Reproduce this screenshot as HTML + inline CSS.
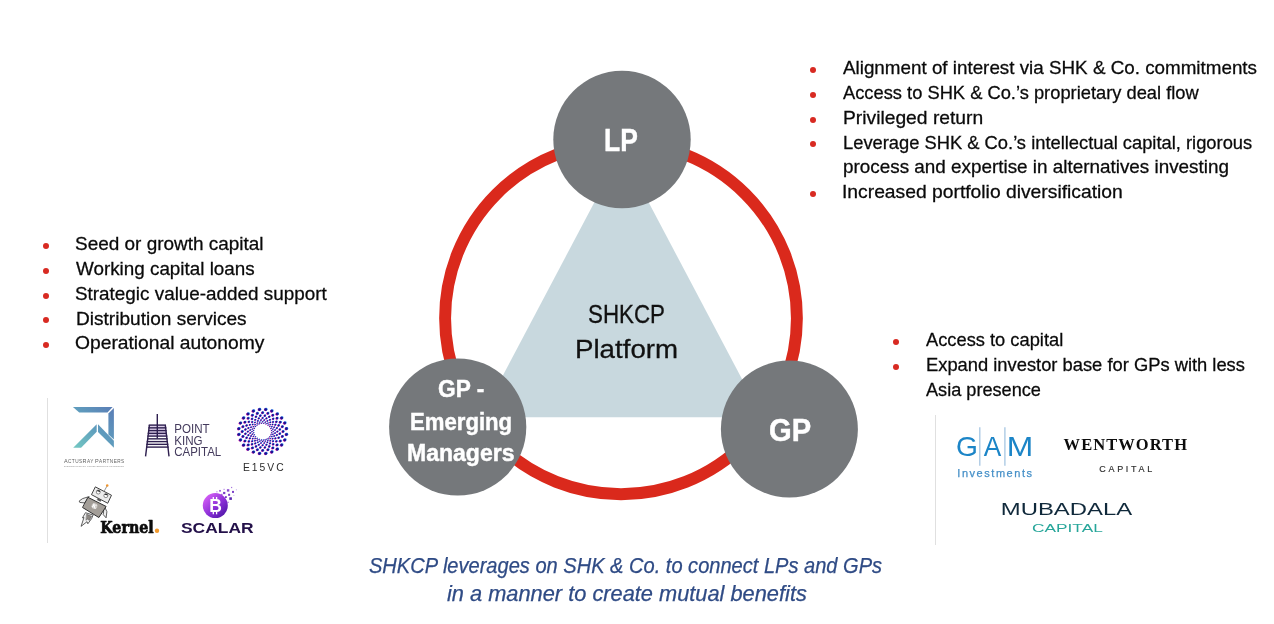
<!DOCTYPE html>
<html lang="en"><head><meta charset="utf-8"><title>SHKCP Platform</title>
<style>
html,body{margin:0;padding:0;background:#fff}
body{width:1274px;height:624px;position:relative;overflow:hidden;font-family:"Liberation Sans",sans-serif;color:#0a0a0a}
#slide{position:absolute;left:0;top:0;width:1274px;height:624px;overflow:hidden;background:#fff;will-change:transform}
.ln{position:absolute;white-space:nowrap;transform-origin:0 50%;display:block}
.t{-webkit-text-stroke:0.28px #0a0a0a}
.cap{font-style:italic;color:#2f4b85;-webkit-text-stroke:0.25px #2f4b85}
.ctr{color:#111;-webkit-text-stroke:0.3px #111}
.circ{color:#fff;font-weight:bold;-webkit-text-stroke:0.45px #fff}
.dot{position:absolute;width:6px;height:6px;border-radius:50%;background:#d82a22}
svg{position:absolute;left:0;top:0}
ul,li,p,section{margin:0;padding:0;list-style:none}
.vr{position:absolute;width:1px;background:#e0e0e0}
</style></head><body><div id="slide">
<svg width="1274" height="624" viewBox="0 0 1274 624">
<polygon points="621.5,151 480.8,417.2 762.2,417.2" fill="#c8d8de"/>
<circle cx="621" cy="318.3" r="175.9" fill="none" stroke="#da291c" stroke-width="11.9"/>
<circle cx="622" cy="139.5" r="68.7" fill="#75787b"/>
<circle cx="789.4" cy="429" r="68.5" fill="#75787b"/>
<circle cx="457.7" cy="427" r="68.6" fill="#75787b"/>
</svg>

<svg width="1274" height="624" viewBox="0 0 1274 624" font-family="'Liberation Sans',sans-serif">
<defs>
<linearGradient id="ar" gradientUnits="userSpaceOnUse" x1="74" y1="448" x2="114" y2="408"><stop offset="0" stop-color="#73c8c2"/><stop offset="0.5" stop-color="#5f9dbd"/><stop offset="1" stop-color="#5a7db6"/></linearGradient>
<linearGradient id="sc" gradientUnits="userSpaceOnUse" x1="206" y1="496" x2="225" y2="516"><stop offset="0" stop-color="#d35cf5"/><stop offset="0.55" stop-color="#8a2fd6"/><stop offset="1" stop-color="#4f17a8"/></linearGradient>
</defs>
<g id="actusray">
<polygon points="72.9,407 112.6,407 107.5,412.6 79.2,412.6" fill="url(#ar)"/>
<polygon points="113.9,408 113.9,439.5 108.4,434.4 108.4,413.5" fill="url(#ar)"/>
<polygon points="73.2,447.7 96.7,424.3 96.7,431.8 81.1,447.7" fill="url(#ar)"/>
<polygon points="98,424.3 113.9,440.8 113.9,447.7 98,432.1" fill="url(#ar)"/>
<text x="63.9" y="462.7" font-size="4.7" fill="#5f5f5f" textLength="60.3" lengthAdjust="spacing"><tspan font-size="5.5">A</tspan>CTUS<tspan font-size="5.5">R</tspan>AY<tspan font-size="2.5"> </tspan><tspan font-size="5.5">P</tspan>ARTNERS</text>
<text x="63.9" y="467" font-size="2.4" font-weight="bold" fill="#9b9b9b" textLength="60.3" lengthAdjust="spacing">DISCRETIONARY PROBABILISTIC INVESTING</text>
</g>
<g id="pointking">
<polygon points="149.4,425.1 165.3,425.1 166.6,436.1 148.1,436.1" fill="#dccfea"/>
<g stroke="#2e1f4f" stroke-width="1.4" fill="none">
<line x1="157.3" y1="414.1" x2="157.3" y2="438.4"/>
<line x1="149.40" y1="425.1" x2="145.58" y2="456.3"/>
<line x1="165.30" y1="425.1" x2="169.02" y2="456.3"/>
<line x1="148.70" y1="425.10" x2="166.00" y2="425.10"/>
<line x1="148.36" y1="427.85" x2="166.33" y2="427.85"/>
<line x1="148.03" y1="430.60" x2="166.66" y2="430.60"/>
<line x1="147.69" y1="433.35" x2="166.98" y2="433.35"/>
<line x1="147.35" y1="436.10" x2="167.31" y2="436.10"/>
<line x1="147.01" y1="438.85" x2="167.64" y2="438.85"/>
<line x1="146.68" y1="441.60" x2="167.97" y2="441.60"/>
<line x1="146.34" y1="444.35" x2="168.30" y2="444.35"/>
<line x1="146.00" y1="447.10" x2="168.63" y2="447.10"/>
</g>
<text x="174.2" y="432.8" font-size="11.9" fill="#433a5c" textLength="35.4" lengthAdjust="spacingAndGlyphs">POINT</text>
<text x="174.2" y="444.5" font-size="11.9" fill="#433a5c" textLength="28.4" lengthAdjust="spacingAndGlyphs">KING</text>
<text x="174.2" y="456.3" font-size="11.9" fill="#433a5c" textLength="47" lengthAdjust="spacingAndGlyphs">CAPITAL</text>
</g>
<g id="e15vc">
<g fill="#e01aa6"><circle cx="286.05" cy="434.73" r="1.49"/><circle cx="284.43" cy="440.33" r="1.49"/><circle cx="281.30" cy="445.35" r="1.49"/><circle cx="276.88" cy="449.45" r="1.49"/><circle cx="271.45" cy="452.35" r="1.49"/><circle cx="265.40" cy="453.86" r="1.49"/><circle cx="259.14" cy="453.86" r="1.49"/><circle cx="253.09" cy="452.37" r="1.49"/><circle cx="247.66" cy="449.47" r="1.49"/><circle cx="243.22" cy="445.38" r="1.49"/><circle cx="240.09" cy="440.36" r="1.49"/><circle cx="238.46" cy="434.77" r="1.49"/><circle cx="238.45" cy="428.97" r="1.49"/><circle cx="240.07" cy="423.37" r="1.49"/><circle cx="243.20" cy="418.35" r="1.49"/><circle cx="247.62" cy="414.25" r="1.49"/><circle cx="253.05" cy="411.35" r="1.49"/><circle cx="259.10" cy="409.84" r="1.49"/><circle cx="265.36" cy="409.84" r="1.49"/><circle cx="271.41" cy="411.33" r="1.49"/><circle cx="276.84" cy="414.23" r="1.49"/><circle cx="281.28" cy="418.32" r="1.49"/><circle cx="284.41" cy="423.34" r="1.49"/><circle cx="286.04" cy="428.93" r="1.49"/><circle cx="281.96" cy="436.72" r="1.26"/><circle cx="279.93" cy="441.27" r="1.26"/><circle cx="276.69" cy="445.18" r="1.26"/><circle cx="272.47" cy="448.18" r="1.26"/><circle cx="267.55" cy="450.07" r="1.26"/><circle cx="262.27" cy="450.72" r="1.26"/><circle cx="256.99" cy="450.08" r="1.26"/><circle cx="252.07" cy="448.20" r="1.26"/><circle cx="247.84" cy="445.21" r="1.26"/><circle cx="244.59" cy="441.30" r="1.26"/><circle cx="242.55" cy="436.75" r="1.26"/><circle cx="241.85" cy="431.87" r="1.26"/><circle cx="242.54" cy="426.98" r="1.26"/><circle cx="244.57" cy="422.43" r="1.26"/><circle cx="247.81" cy="418.52" r="1.26"/><circle cx="252.03" cy="415.52" r="1.26"/><circle cx="256.95" cy="413.63" r="1.26"/><circle cx="262.23" cy="412.98" r="1.26"/><circle cx="267.51" cy="413.62" r="1.26"/><circle cx="272.43" cy="415.50" r="1.26"/><circle cx="276.66" cy="418.49" r="1.26"/><circle cx="279.91" cy="422.40" r="1.26"/><circle cx="281.95" cy="426.95" r="1.26"/><circle cx="282.65" cy="431.83" r="1.26"/><circle cx="279.44" cy="433.93" r="1.08"/><circle cx="278.28" cy="437.97" r="1.08"/><circle cx="276.02" cy="441.60" r="1.08"/><circle cx="272.82" cy="444.57" r="1.08"/><circle cx="268.90" cy="446.66" r="1.08"/><circle cx="264.53" cy="447.75" r="1.08"/><circle cx="260.00" cy="447.75" r="1.08"/><circle cx="255.63" cy="446.67" r="1.08"/><circle cx="251.71" cy="444.58" r="1.08"/><circle cx="248.50" cy="441.63" r="1.08"/><circle cx="246.24" cy="438.00" r="1.08"/><circle cx="245.06" cy="433.96" r="1.08"/><circle cx="245.06" cy="429.77" r="1.08"/><circle cx="246.22" cy="425.73" r="1.08"/><circle cx="248.48" cy="422.10" r="1.08"/><circle cx="251.68" cy="419.13" r="1.08"/><circle cx="255.60" cy="417.04" r="1.08"/><circle cx="259.97" cy="415.95" r="1.08"/><circle cx="264.50" cy="415.95" r="1.08"/><circle cx="268.87" cy="417.03" r="1.08"/><circle cx="272.79" cy="419.12" r="1.08"/><circle cx="276.00" cy="422.07" r="1.08"/><circle cx="278.26" cy="425.70" r="1.08"/><circle cx="279.44" cy="429.74" r="1.08"/><circle cx="276.49" cy="435.37" r="0.91"/><circle cx="275.02" cy="438.66" r="0.91"/><circle cx="272.68" cy="441.48" r="0.91"/><circle cx="269.63" cy="443.65" r="0.91"/><circle cx="266.08" cy="445.02" r="0.91"/><circle cx="262.26" cy="445.48" r="0.91"/><circle cx="258.45" cy="445.02" r="0.91"/><circle cx="254.89" cy="443.66" r="0.91"/><circle cx="251.84" cy="441.50" r="0.91"/><circle cx="249.49" cy="438.68" r="0.91"/><circle cx="248.02" cy="435.39" r="0.91"/><circle cx="247.51" cy="431.86" r="0.91"/><circle cx="248.01" cy="428.33" r="0.91"/><circle cx="249.48" cy="425.04" r="0.91"/><circle cx="251.82" cy="422.22" r="0.91"/><circle cx="254.87" cy="420.05" r="0.91"/><circle cx="258.42" cy="418.68" r="0.91"/><circle cx="262.24" cy="418.22" r="0.91"/><circle cx="266.05" cy="418.68" r="0.91"/><circle cx="269.61" cy="420.04" r="0.91"/><circle cx="272.66" cy="422.20" r="0.91"/><circle cx="275.01" cy="425.02" r="0.91"/><circle cx="276.48" cy="428.31" r="0.91"/><circle cx="276.99" cy="431.84" r="0.91"/><circle cx="274.67" cy="433.35" r="0.78"/><circle cx="273.83" cy="436.28" r="0.78"/><circle cx="272.20" cy="438.90" r="0.78"/><circle cx="269.89" cy="441.04" r="0.78"/><circle cx="267.05" cy="442.55" r="0.78"/><circle cx="263.90" cy="443.34" r="0.78"/><circle cx="260.63" cy="443.34" r="0.78"/><circle cx="257.47" cy="442.56" r="0.78"/><circle cx="254.63" cy="441.05" r="0.78"/><circle cx="252.32" cy="438.91" r="0.78"/><circle cx="250.68" cy="436.29" r="0.78"/><circle cx="249.83" cy="433.37" r="0.78"/><circle cx="249.83" cy="430.35" r="0.78"/><circle cx="250.67" cy="427.42" r="0.78"/><circle cx="252.30" cy="424.80" r="0.78"/><circle cx="254.61" cy="422.66" r="0.78"/><circle cx="257.45" cy="421.15" r="0.78"/><circle cx="260.60" cy="420.36" r="0.78"/><circle cx="263.87" cy="420.36" r="0.78"/><circle cx="267.03" cy="421.14" r="0.78"/><circle cx="269.87" cy="422.65" r="0.78"/><circle cx="272.18" cy="424.79" r="0.78"/><circle cx="273.82" cy="427.41" r="0.78"/><circle cx="274.67" cy="430.33" r="0.78"/><circle cx="272.54" cy="434.39" r="0.66"/><circle cx="271.48" cy="436.77" r="0.66"/><circle cx="269.79" cy="438.81" r="0.66"/><circle cx="267.58" cy="440.38" r="0.66"/><circle cx="265.02" cy="441.36" r="0.66"/><circle cx="262.26" cy="441.70" r="0.66"/><circle cx="259.50" cy="441.37" r="0.66"/><circle cx="256.93" cy="440.39" r="0.66"/><circle cx="254.73" cy="438.82" r="0.66"/><circle cx="253.03" cy="436.78" r="0.66"/><circle cx="251.97" cy="434.41" r="0.66"/><circle cx="251.60" cy="431.86" r="0.66"/><circle cx="251.96" cy="429.31" r="0.66"/><circle cx="253.02" cy="426.93" r="0.66"/><circle cx="254.71" cy="424.89" r="0.66"/><circle cx="256.92" cy="423.32" r="0.66"/><circle cx="259.48" cy="422.34" r="0.66"/><circle cx="262.24" cy="422.00" r="0.66"/><circle cx="265.00" cy="422.33" r="0.66"/><circle cx="267.57" cy="423.31" r="0.66"/><circle cx="269.77" cy="424.88" r="0.66"/><circle cx="271.47" cy="426.92" r="0.66"/><circle cx="272.53" cy="429.29" r="0.66"/><circle cx="272.90" cy="431.84" r="0.66"/><circle cx="271.23" cy="432.94" r="0.56"/><circle cx="270.62" cy="435.05" r="0.56"/><circle cx="269.44" cy="436.94" r="0.56"/><circle cx="267.77" cy="438.49" r="0.56"/><circle cx="265.72" cy="439.58" r="0.56"/><circle cx="263.44" cy="440.15" r="0.56"/><circle cx="261.08" cy="440.15" r="0.56"/><circle cx="258.79" cy="439.59" r="0.56"/><circle cx="256.75" cy="438.50" r="0.56"/><circle cx="255.07" cy="436.95" r="0.56"/><circle cx="253.89" cy="435.06" r="0.56"/><circle cx="253.28" cy="432.95" r="0.56"/><circle cx="253.27" cy="430.76" r="0.56"/><circle cx="253.88" cy="428.65" r="0.56"/><circle cx="255.06" cy="426.76" r="0.56"/><circle cx="256.73" cy="425.21" r="0.56"/><circle cx="258.78" cy="424.12" r="0.56"/><circle cx="261.06" cy="423.55" r="0.56"/><circle cx="263.42" cy="423.55" r="0.56"/><circle cx="265.71" cy="424.11" r="0.56"/><circle cx="267.75" cy="425.20" r="0.56"/><circle cx="269.43" cy="426.75" r="0.56"/><circle cx="270.61" cy="428.64" r="0.56"/><circle cx="271.22" cy="430.75" r="0.56"/></g>
<g fill="#1d7bea"><circle cx="286.75" cy="434.23" r="1.49"/><circle cx="285.13" cy="439.83" r="1.49"/><circle cx="282.00" cy="444.85" r="1.49"/><circle cx="277.58" cy="448.95" r="1.49"/><circle cx="272.15" cy="451.85" r="1.49"/><circle cx="266.10" cy="453.36" r="1.49"/><circle cx="259.84" cy="453.36" r="1.49"/><circle cx="253.79" cy="451.87" r="1.49"/><circle cx="248.36" cy="448.97" r="1.49"/><circle cx="243.92" cy="444.88" r="1.49"/><circle cx="240.79" cy="439.86" r="1.49"/><circle cx="239.16" cy="434.27" r="1.49"/><circle cx="239.15" cy="428.47" r="1.49"/><circle cx="240.77" cy="422.87" r="1.49"/><circle cx="243.90" cy="417.85" r="1.49"/><circle cx="248.32" cy="413.75" r="1.49"/><circle cx="253.75" cy="410.85" r="1.49"/><circle cx="259.80" cy="409.34" r="1.49"/><circle cx="266.06" cy="409.34" r="1.49"/><circle cx="272.11" cy="410.83" r="1.49"/><circle cx="277.54" cy="413.73" r="1.49"/><circle cx="281.98" cy="417.82" r="1.49"/><circle cx="285.11" cy="422.84" r="1.49"/><circle cx="286.74" cy="428.43" r="1.49"/><circle cx="282.66" cy="436.22" r="1.26"/><circle cx="280.63" cy="440.77" r="1.26"/><circle cx="277.39" cy="444.68" r="1.26"/><circle cx="273.17" cy="447.68" r="1.26"/><circle cx="268.25" cy="449.57" r="1.26"/><circle cx="262.97" cy="450.22" r="1.26"/><circle cx="257.69" cy="449.58" r="1.26"/><circle cx="252.77" cy="447.70" r="1.26"/><circle cx="248.54" cy="444.71" r="1.26"/><circle cx="245.29" cy="440.80" r="1.26"/><circle cx="243.25" cy="436.25" r="1.26"/><circle cx="242.55" cy="431.37" r="1.26"/><circle cx="243.24" cy="426.48" r="1.26"/><circle cx="245.27" cy="421.93" r="1.26"/><circle cx="248.51" cy="418.02" r="1.26"/><circle cx="252.73" cy="415.02" r="1.26"/><circle cx="257.65" cy="413.13" r="1.26"/><circle cx="262.93" cy="412.48" r="1.26"/><circle cx="268.21" cy="413.12" r="1.26"/><circle cx="273.13" cy="415.00" r="1.26"/><circle cx="277.36" cy="417.99" r="1.26"/><circle cx="280.61" cy="421.90" r="1.26"/><circle cx="282.65" cy="426.45" r="1.26"/><circle cx="283.35" cy="431.33" r="1.26"/><circle cx="280.14" cy="433.43" r="1.08"/><circle cx="278.98" cy="437.47" r="1.08"/><circle cx="276.72" cy="441.10" r="1.08"/><circle cx="273.52" cy="444.07" r="1.08"/><circle cx="269.60" cy="446.16" r="1.08"/><circle cx="265.23" cy="447.25" r="1.08"/><circle cx="260.70" cy="447.25" r="1.08"/><circle cx="256.33" cy="446.17" r="1.08"/><circle cx="252.41" cy="444.08" r="1.08"/><circle cx="249.20" cy="441.13" r="1.08"/><circle cx="246.94" cy="437.50" r="1.08"/><circle cx="245.76" cy="433.46" r="1.08"/><circle cx="245.76" cy="429.27" r="1.08"/><circle cx="246.92" cy="425.23" r="1.08"/><circle cx="249.18" cy="421.60" r="1.08"/><circle cx="252.38" cy="418.63" r="1.08"/><circle cx="256.30" cy="416.54" r="1.08"/><circle cx="260.67" cy="415.45" r="1.08"/><circle cx="265.20" cy="415.45" r="1.08"/><circle cx="269.57" cy="416.53" r="1.08"/><circle cx="273.49" cy="418.62" r="1.08"/><circle cx="276.70" cy="421.57" r="1.08"/><circle cx="278.96" cy="425.20" r="1.08"/><circle cx="280.14" cy="429.24" r="1.08"/><circle cx="277.19" cy="434.87" r="0.91"/><circle cx="275.72" cy="438.16" r="0.91"/><circle cx="273.38" cy="440.98" r="0.91"/><circle cx="270.33" cy="443.15" r="0.91"/><circle cx="266.78" cy="444.52" r="0.91"/><circle cx="262.96" cy="444.98" r="0.91"/><circle cx="259.15" cy="444.52" r="0.91"/><circle cx="255.59" cy="443.16" r="0.91"/><circle cx="252.54" cy="441.00" r="0.91"/><circle cx="250.19" cy="438.18" r="0.91"/><circle cx="248.72" cy="434.89" r="0.91"/><circle cx="248.21" cy="431.36" r="0.91"/><circle cx="248.71" cy="427.83" r="0.91"/><circle cx="250.18" cy="424.54" r="0.91"/><circle cx="252.52" cy="421.72" r="0.91"/><circle cx="255.57" cy="419.55" r="0.91"/><circle cx="259.12" cy="418.18" r="0.91"/><circle cx="262.94" cy="417.72" r="0.91"/><circle cx="266.75" cy="418.18" r="0.91"/><circle cx="270.31" cy="419.54" r="0.91"/><circle cx="273.36" cy="421.70" r="0.91"/><circle cx="275.71" cy="424.52" r="0.91"/><circle cx="277.18" cy="427.81" r="0.91"/><circle cx="277.69" cy="431.34" r="0.91"/><circle cx="275.37" cy="432.85" r="0.78"/><circle cx="274.53" cy="435.78" r="0.78"/><circle cx="272.90" cy="438.40" r="0.78"/><circle cx="270.59" cy="440.54" r="0.78"/><circle cx="267.75" cy="442.05" r="0.78"/><circle cx="264.60" cy="442.84" r="0.78"/><circle cx="261.33" cy="442.84" r="0.78"/><circle cx="258.17" cy="442.06" r="0.78"/><circle cx="255.33" cy="440.55" r="0.78"/><circle cx="253.02" cy="438.41" r="0.78"/><circle cx="251.38" cy="435.79" r="0.78"/><circle cx="250.53" cy="432.87" r="0.78"/><circle cx="250.53" cy="429.85" r="0.78"/><circle cx="251.37" cy="426.92" r="0.78"/><circle cx="253.00" cy="424.30" r="0.78"/><circle cx="255.31" cy="422.16" r="0.78"/><circle cx="258.15" cy="420.65" r="0.78"/><circle cx="261.30" cy="419.86" r="0.78"/><circle cx="264.57" cy="419.86" r="0.78"/><circle cx="267.73" cy="420.64" r="0.78"/><circle cx="270.57" cy="422.15" r="0.78"/><circle cx="272.88" cy="424.29" r="0.78"/><circle cx="274.52" cy="426.91" r="0.78"/><circle cx="275.37" cy="429.83" r="0.78"/><circle cx="273.24" cy="433.89" r="0.66"/><circle cx="272.18" cy="436.27" r="0.66"/><circle cx="270.49" cy="438.31" r="0.66"/><circle cx="268.28" cy="439.88" r="0.66"/><circle cx="265.72" cy="440.86" r="0.66"/><circle cx="262.96" cy="441.20" r="0.66"/><circle cx="260.20" cy="440.87" r="0.66"/><circle cx="257.63" cy="439.89" r="0.66"/><circle cx="255.43" cy="438.32" r="0.66"/><circle cx="253.73" cy="436.28" r="0.66"/><circle cx="252.67" cy="433.91" r="0.66"/><circle cx="252.30" cy="431.36" r="0.66"/><circle cx="252.66" cy="428.81" r="0.66"/><circle cx="253.72" cy="426.43" r="0.66"/><circle cx="255.41" cy="424.39" r="0.66"/><circle cx="257.62" cy="422.82" r="0.66"/><circle cx="260.18" cy="421.84" r="0.66"/><circle cx="262.94" cy="421.50" r="0.66"/><circle cx="265.70" cy="421.83" r="0.66"/><circle cx="268.27" cy="422.81" r="0.66"/><circle cx="270.47" cy="424.38" r="0.66"/><circle cx="272.17" cy="426.42" r="0.66"/><circle cx="273.23" cy="428.79" r="0.66"/><circle cx="273.60" cy="431.34" r="0.66"/><circle cx="271.93" cy="432.44" r="0.56"/><circle cx="271.32" cy="434.55" r="0.56"/><circle cx="270.14" cy="436.44" r="0.56"/><circle cx="268.47" cy="437.99" r="0.56"/><circle cx="266.42" cy="439.08" r="0.56"/><circle cx="264.14" cy="439.65" r="0.56"/><circle cx="261.78" cy="439.65" r="0.56"/><circle cx="259.49" cy="439.09" r="0.56"/><circle cx="257.45" cy="438.00" r="0.56"/><circle cx="255.77" cy="436.45" r="0.56"/><circle cx="254.59" cy="434.56" r="0.56"/><circle cx="253.98" cy="432.45" r="0.56"/><circle cx="253.97" cy="430.26" r="0.56"/><circle cx="254.58" cy="428.15" r="0.56"/><circle cx="255.76" cy="426.26" r="0.56"/><circle cx="257.43" cy="424.71" r="0.56"/><circle cx="259.48" cy="423.62" r="0.56"/><circle cx="261.76" cy="423.05" r="0.56"/><circle cx="264.12" cy="423.05" r="0.56"/><circle cx="266.41" cy="423.61" r="0.56"/><circle cx="268.45" cy="424.70" r="0.56"/><circle cx="270.13" cy="426.25" r="0.56"/><circle cx="271.31" cy="428.14" r="0.56"/><circle cx="271.92" cy="430.25" r="0.56"/></g>
<g fill="#1f0f8f"><circle cx="286.40" cy="434.48" r="1.34"/><circle cx="284.78" cy="440.08" r="1.34"/><circle cx="281.65" cy="445.10" r="1.34"/><circle cx="277.23" cy="449.20" r="1.34"/><circle cx="271.80" cy="452.10" r="1.34"/><circle cx="265.75" cy="453.61" r="1.34"/><circle cx="259.49" cy="453.61" r="1.34"/><circle cx="253.44" cy="452.12" r="1.34"/><circle cx="248.01" cy="449.22" r="1.34"/><circle cx="243.57" cy="445.13" r="1.34"/><circle cx="240.44" cy="440.11" r="1.34"/><circle cx="238.81" cy="434.52" r="1.34"/><circle cx="238.80" cy="428.72" r="1.34"/><circle cx="240.42" cy="423.12" r="1.34"/><circle cx="243.55" cy="418.10" r="1.34"/><circle cx="247.97" cy="414.00" r="1.34"/><circle cx="253.40" cy="411.10" r="1.34"/><circle cx="259.45" cy="409.59" r="1.34"/><circle cx="265.71" cy="409.59" r="1.34"/><circle cx="271.76" cy="411.08" r="1.34"/><circle cx="277.19" cy="413.98" r="1.34"/><circle cx="281.63" cy="418.07" r="1.34"/><circle cx="284.76" cy="423.09" r="1.34"/><circle cx="286.39" cy="428.68" r="1.34"/><circle cx="282.31" cy="436.47" r="1.14"/><circle cx="280.28" cy="441.02" r="1.14"/><circle cx="277.04" cy="444.93" r="1.14"/><circle cx="272.82" cy="447.93" r="1.14"/><circle cx="267.90" cy="449.82" r="1.14"/><circle cx="262.62" cy="450.47" r="1.14"/><circle cx="257.34" cy="449.83" r="1.14"/><circle cx="252.42" cy="447.95" r="1.14"/><circle cx="248.19" cy="444.96" r="1.14"/><circle cx="244.94" cy="441.05" r="1.14"/><circle cx="242.90" cy="436.50" r="1.14"/><circle cx="242.20" cy="431.62" r="1.14"/><circle cx="242.89" cy="426.73" r="1.14"/><circle cx="244.92" cy="422.18" r="1.14"/><circle cx="248.16" cy="418.27" r="1.14"/><circle cx="252.38" cy="415.27" r="1.14"/><circle cx="257.30" cy="413.38" r="1.14"/><circle cx="262.58" cy="412.73" r="1.14"/><circle cx="267.86" cy="413.37" r="1.14"/><circle cx="272.78" cy="415.25" r="1.14"/><circle cx="277.01" cy="418.24" r="1.14"/><circle cx="280.26" cy="422.15" r="1.14"/><circle cx="282.30" cy="426.70" r="1.14"/><circle cx="283.00" cy="431.58" r="1.14"/><circle cx="279.79" cy="433.68" r="0.97"/><circle cx="278.63" cy="437.72" r="0.97"/><circle cx="276.37" cy="441.35" r="0.97"/><circle cx="273.17" cy="444.32" r="0.97"/><circle cx="269.25" cy="446.41" r="0.97"/><circle cx="264.88" cy="447.50" r="0.97"/><circle cx="260.35" cy="447.50" r="0.97"/><circle cx="255.98" cy="446.42" r="0.97"/><circle cx="252.06" cy="444.33" r="0.97"/><circle cx="248.85" cy="441.38" r="0.97"/><circle cx="246.59" cy="437.75" r="0.97"/><circle cx="245.41" cy="433.71" r="0.97"/><circle cx="245.41" cy="429.52" r="0.97"/><circle cx="246.57" cy="425.48" r="0.97"/><circle cx="248.83" cy="421.85" r="0.97"/><circle cx="252.03" cy="418.88" r="0.97"/><circle cx="255.95" cy="416.79" r="0.97"/><circle cx="260.32" cy="415.70" r="0.97"/><circle cx="264.85" cy="415.70" r="0.97"/><circle cx="269.22" cy="416.78" r="0.97"/><circle cx="273.14" cy="418.87" r="0.97"/><circle cx="276.35" cy="421.82" r="0.97"/><circle cx="278.61" cy="425.45" r="0.97"/><circle cx="279.79" cy="429.49" r="0.97"/><circle cx="276.84" cy="435.12" r="0.82"/><circle cx="275.37" cy="438.41" r="0.82"/><circle cx="273.03" cy="441.23" r="0.82"/><circle cx="269.98" cy="443.40" r="0.82"/><circle cx="266.43" cy="444.77" r="0.82"/><circle cx="262.61" cy="445.23" r="0.82"/><circle cx="258.80" cy="444.77" r="0.82"/><circle cx="255.24" cy="443.41" r="0.82"/><circle cx="252.19" cy="441.25" r="0.82"/><circle cx="249.84" cy="438.43" r="0.82"/><circle cx="248.37" cy="435.14" r="0.82"/><circle cx="247.86" cy="431.61" r="0.82"/><circle cx="248.36" cy="428.08" r="0.82"/><circle cx="249.83" cy="424.79" r="0.82"/><circle cx="252.17" cy="421.97" r="0.82"/><circle cx="255.22" cy="419.80" r="0.82"/><circle cx="258.77" cy="418.43" r="0.82"/><circle cx="262.59" cy="417.97" r="0.82"/><circle cx="266.40" cy="418.43" r="0.82"/><circle cx="269.96" cy="419.79" r="0.82"/><circle cx="273.01" cy="421.95" r="0.82"/><circle cx="275.36" cy="424.77" r="0.82"/><circle cx="276.83" cy="428.06" r="0.82"/><circle cx="277.34" cy="431.59" r="0.82"/><circle cx="275.02" cy="433.10" r="0.70"/><circle cx="274.18" cy="436.03" r="0.70"/><circle cx="272.55" cy="438.65" r="0.70"/><circle cx="270.24" cy="440.79" r="0.70"/><circle cx="267.40" cy="442.30" r="0.70"/><circle cx="264.25" cy="443.09" r="0.70"/><circle cx="260.98" cy="443.09" r="0.70"/><circle cx="257.82" cy="442.31" r="0.70"/><circle cx="254.98" cy="440.80" r="0.70"/><circle cx="252.67" cy="438.66" r="0.70"/><circle cx="251.03" cy="436.04" r="0.70"/><circle cx="250.18" cy="433.12" r="0.70"/><circle cx="250.18" cy="430.10" r="0.70"/><circle cx="251.02" cy="427.17" r="0.70"/><circle cx="252.65" cy="424.55" r="0.70"/><circle cx="254.96" cy="422.41" r="0.70"/><circle cx="257.80" cy="420.90" r="0.70"/><circle cx="260.95" cy="420.11" r="0.70"/><circle cx="264.22" cy="420.11" r="0.70"/><circle cx="267.38" cy="420.89" r="0.70"/><circle cx="270.22" cy="422.40" r="0.70"/><circle cx="272.53" cy="424.54" r="0.70"/><circle cx="274.17" cy="427.16" r="0.70"/><circle cx="275.02" cy="430.08" r="0.70"/><circle cx="272.89" cy="434.14" r="0.59"/><circle cx="271.83" cy="436.52" r="0.59"/><circle cx="270.14" cy="438.56" r="0.59"/><circle cx="267.93" cy="440.13" r="0.59"/><circle cx="265.37" cy="441.11" r="0.59"/><circle cx="262.61" cy="441.45" r="0.59"/><circle cx="259.85" cy="441.12" r="0.59"/><circle cx="257.28" cy="440.14" r="0.59"/><circle cx="255.08" cy="438.57" r="0.59"/><circle cx="253.38" cy="436.53" r="0.59"/><circle cx="252.32" cy="434.16" r="0.59"/><circle cx="251.95" cy="431.61" r="0.59"/><circle cx="252.31" cy="429.06" r="0.59"/><circle cx="253.37" cy="426.68" r="0.59"/><circle cx="255.06" cy="424.64" r="0.59"/><circle cx="257.27" cy="423.07" r="0.59"/><circle cx="259.83" cy="422.09" r="0.59"/><circle cx="262.59" cy="421.75" r="0.59"/><circle cx="265.35" cy="422.08" r="0.59"/><circle cx="267.92" cy="423.06" r="0.59"/><circle cx="270.12" cy="424.63" r="0.59"/><circle cx="271.82" cy="426.67" r="0.59"/><circle cx="272.88" cy="429.04" r="0.59"/><circle cx="273.25" cy="431.59" r="0.59"/><circle cx="271.58" cy="432.69" r="0.51"/><circle cx="270.97" cy="434.80" r="0.51"/><circle cx="269.79" cy="436.69" r="0.51"/><circle cx="268.12" cy="438.24" r="0.51"/><circle cx="266.07" cy="439.33" r="0.51"/><circle cx="263.79" cy="439.90" r="0.51"/><circle cx="261.43" cy="439.90" r="0.51"/><circle cx="259.14" cy="439.34" r="0.51"/><circle cx="257.10" cy="438.25" r="0.51"/><circle cx="255.42" cy="436.70" r="0.51"/><circle cx="254.24" cy="434.81" r="0.51"/><circle cx="253.63" cy="432.70" r="0.51"/><circle cx="253.62" cy="430.51" r="0.51"/><circle cx="254.23" cy="428.40" r="0.51"/><circle cx="255.41" cy="426.51" r="0.51"/><circle cx="257.08" cy="424.96" r="0.51"/><circle cx="259.13" cy="423.87" r="0.51"/><circle cx="261.41" cy="423.30" r="0.51"/><circle cx="263.77" cy="423.30" r="0.51"/><circle cx="266.06" cy="423.86" r="0.51"/><circle cx="268.10" cy="424.95" r="0.51"/><circle cx="269.78" cy="426.50" r="0.51"/><circle cx="270.96" cy="428.39" r="0.51"/><circle cx="271.57" cy="430.50" r="0.51"/></g>
<text x="243" y="470.5" font-size="10.3" fill="#2b2b2b" textLength="40.6" lengthAdjust="spacing">E15VC</text>
</g>
<g id="kernel">
<g stroke="#2e2e2e" stroke-width="0.75" stroke-linejoin="round" stroke-linecap="round">
<polygon points="85.26,513.03 82.45,517.84 83.98,517.52 81.09,526.33 87.02,521.68 87.83,523.77 91.59,518.64 92.96,515.43" fill="#f3f3f3"/>
<polygon points="86.86,514.31 91.59,516.23 89.27,520.48 87.83,519.12 86.22,520.08" fill="#8d8883" stroke-width="0.4"/>
<polygon points="88.79,496.67 82.62,498.60 79.17,501.00 79.81,502.44 84.78,502.93 86.22,501.00" fill="#ededed"/>
<polygon points="104.82,507.09 106.90,511.66 106.10,517.84 103.22,514.63 103.70,510.62" fill="#ededed"/>
<polygon points="97.85,498.60 101.05,500.20 100.49,501.48 97.28,499.88" fill="#555" stroke-width="0.3"/>
<polygon points="88.23,497.47 106.10,506.45 98.89,517.52 82.86,507.66" fill="#a39e98" stroke-width="1.0"/>
<polygon points="95.68,487.05 111.47,495.23 107.71,503.25 91.83,494.83" fill="#ececec" stroke-width="0.9"/>
<polyline points="104.50,490.58 106.90,486.25" fill="none" stroke-width="0.5"/>
</g>
<circle cx="94.48" cy="506.05" r="2.9" fill="#cfcbc7"/>
<text x="94.48" y="508.15" font-size="5.6" font-weight="bold" fill="#fff" text-anchor="middle" transform="rotate(27 94.48 506.05)" font-family="'DejaVu Serif',serif">K</text>
<circle cx="98.25" cy="492.02" r="2.0" fill="#fff" stroke="#222" stroke-width="0.5"/>
<path d="M96.35 491.72 A2 2 0 0 1 99.95 491.12 Z" fill="#1a1a1a" transform="rotate(27 98.25 492.02)"/>
<circle cx="105.86" cy="495.63" r="2.0" fill="#fff" stroke="#222" stroke-width="0.5"/>
<path d="M103.96 495.33 A2 2 0 0 1 107.56 494.73 Z" fill="#1a1a1a" transform="rotate(27 105.86 495.63)"/>
<circle cx="107.22" cy="485.45" r="1.25" fill="#f0962e"/>
<text x="100.3" y="532.7" font-size="16.3" font-weight="bold" fill="#0c0c0c" stroke="#0c0c0c" stroke-width="0.7" stroke-linejoin="round" font-family="'DejaVu Serif','Liberation Serif',serif" textLength="53.4" lengthAdjust="spacingAndGlyphs">Kernel</text>
<circle cx="157" cy="530.7" r="2.2" fill="#f29a2e"/>
</g>
<g id="scalar">
<rect x="216.25" y="491.15" width="1.3" height="1.3" fill="#c9a0ee"/>
<rect x="219.15" y="489.95" width="1.7" height="1.7" fill="#9a5ad8"/>
<rect x="223.50" y="488.80" width="1.2" height="1.2" fill="#b98ce6"/>
<rect x="223.10" y="491.90" width="2.2" height="2.2" fill="#7b3cc8"/>
<rect x="226.90" y="489.20" width="2.4" height="2.4" fill="#8a4ad0"/>
<rect x="231.00" y="486.90" width="1.2" height="1.2" fill="#a877de"/>
<rect x="232.00" y="490.90" width="2.0" height="2.0" fill="#7d40c9"/>
<rect x="235.90" y="489.30" width="1.0" height="1.0" fill="#c5a6ea"/>
<rect x="228.10" y="493.80" width="2.0" height="2.0" fill="#7a38c6"/>
<rect x="225.00" y="496.20" width="1.8" height="1.8" fill="#7736c4"/>
<rect x="229.30" y="497.30" width="2.6" height="2.6" fill="#5a28b0"/>
<rect x="233.40" y="494.90" width="1.0" height="1.0" fill="#cdb4ee"/>
<rect x="227.50" y="501.70" width="1.2" height="1.2" fill="#9d68d8"/>
<rect x="221.10" y="493.80" width="1.4" height="1.4" fill="#a064da"/>
<circle cx="215.3" cy="505.6" r="12.5" fill="url(#sc)"/>
<text x="215.6" y="511.8" font-size="17.5" font-weight="bold" fill="#fff" text-anchor="middle">B</text>
<g stroke="#fff" stroke-width="1.3"><line x1="213.3" y1="497" x2="213.3" y2="500"/><line x1="216.6" y1="497" x2="216.6" y2="500"/><line x1="213.3" y1="511.3" x2="213.3" y2="514.3"/><line x1="216.6" y1="511.3" x2="216.6" y2="514.3"/></g>
<text x="181" y="532.7" font-size="13.8" font-weight="bold" fill="#231049" textLength="72.6" lengthAdjust="spacingAndGlyphs">SCALAR</text>
</g>
<g id="gam">
<text x="956" y="456" font-size="27.5" fill="#1c85c7" textLength="21.9" lengthAdjust="spacingAndGlyphs">G</text>
<text x="983.7" y="456" font-size="27.5" fill="#1c85c7" textLength="17.5" lengthAdjust="spacingAndGlyphs">A</text>
<text x="1006.8" y="456" font-size="27.5" fill="#1c85c7" textLength="26.5" lengthAdjust="spacingAndGlyphs">M</text>
<g stroke="#a6c6e2" stroke-width="1.3"><line x1="979.8" y1="427.2" x2="979.8" y2="465.7"/><line x1="1004.9" y1="427.2" x2="1004.9" y2="465.7"/></g>
<text x="957.3" y="476.7" font-size="11" fill="#4690c8" stroke="#4690c8" stroke-width="0.25" textLength="74.7" lengthAdjust="spacing">Investments</text>
</g>
<g id="wentworth">
<text x="1063.6" y="450.3" font-size="16.5" font-weight="bold" fill="#0d0d0d" font-family="'Liberation Serif',serif" textLength="123.4" lengthAdjust="spacing">WENTWORTH</text>
<text x="1099.3" y="472.1" font-size="9" fill="#2c2c2c" stroke="#2c2c2c" stroke-width="0.15" textLength="53" lengthAdjust="spacing">CAPITAL</text>
</g>
<g id="mubadala">
<text x="1000.8" y="515.2" font-size="15.7" fill="#10293b" textLength="131.4" lengthAdjust="spacingAndGlyphs">MUBADALA</text>
<text x="1032" y="531.8" font-size="10.8" fill="#27a69a" textLength="70.8" lengthAdjust="spacingAndGlyphs">CAPITAL</text>
</g>
</svg>
<div class="vr" style="left:47px;top:398px;height:145px"></div>
<div class="vr" style="left:935px;top:415px;height:130px"></div>
<section class="diagram-labels">
<div class="node"><span class="ln circ" style="left:604.35px;top:120.71px;font-size:32px;line-height:38.4px;transform:scaleX(0.8263)">LP</span></div>
<div class="node"><span class="ln circ" style="left:769.19px;top:410.71px;font-size:32px;line-height:38.4px;transform:scaleX(0.9114)">GP</span></div>
<div class="node"><span class="ln circ" style="left:437.93px;top:375.26px;font-size:23.5px;line-height:28.2px;transform:scaleX(0.9652)">GP -</span><span class="ln circ" style="left:409.96px;top:407.66px;font-size:23.5px;line-height:28.2px;transform:scaleX(0.9425)">Emerging</span><span class="ln circ" style="left:407.22px;top:438.86px;font-size:23.5px;line-height:28.2px;transform:scaleX(0.9796)">Managers</span></div>
<div class="hub"><span class="ln ctr" style="left:587.74px;top:298.99px;font-size:26.0px;line-height:31.2px;transform:scaleX(0.8598)">SHKCP</span><span class="ln ctr" style="left:574.67px;top:333.79px;font-size:26.0px;line-height:31.2px;transform:scaleX(1.0645)">Platform</span></div>
</section>
<ul class="blk">
<li><i class="dot" style="left:43.0px;top:243.0px"></i><span class="ln t" style="left:75.18px;top:233.30px;font-size:18.6px;line-height:22.32px;transform:scaleX(1.0191)">Seed or growth capital</span></li>
<li><i class="dot" style="left:43.0px;top:267.8px"></i><span class="ln t" style="left:76.20px;top:258.05px;font-size:18.6px;line-height:22.32px;transform:scaleX(1.0131)">Working capital loans</span></li>
<li><i class="dot" style="left:43.0px;top:292.5px"></i><span class="ln t" style="left:75.19px;top:282.80px;font-size:18.6px;line-height:22.32px;transform:scaleX(1.0150)">Strategic value-added support</span></li>
<li><i class="dot" style="left:43.0px;top:317.2px"></i><span class="ln t" style="left:75.77px;top:307.55px;font-size:18.6px;line-height:22.32px;transform:scaleX(1.0255)">Distribution services</span></li>
<li><i class="dot" style="left:43.0px;top:342.0px"></i><span class="ln t" style="left:75.26px;top:332.30px;font-size:18.6px;line-height:22.32px;transform:scaleX(1.0352)">Operational autonomy</span></li>
</ul>
<ul class="blk">
<li><i class="dot" style="left:810.4px;top:67.0px"></i><span class="ln t" style="left:842.90px;top:57.30px;font-size:18.6px;line-height:22.32px;transform:scaleX(1.0117)">Alignment of interest via SHK &amp; Co. commitments</span></li>
<li><i class="dot" style="left:810.4px;top:91.8px"></i><span class="ln t" style="left:842.90px;top:82.05px;font-size:18.6px;line-height:22.32px;transform:scaleX(0.9845)">Access to SHK &amp; Co.’s proprietary deal flow</span></li>
<li><i class="dot" style="left:810.4px;top:116.5px"></i><span class="ln t" style="left:843.36px;top:106.80px;font-size:18.6px;line-height:22.32px;transform:scaleX(1.0353)">Privileged return</span></li>
<li><i class="dot" style="left:810.4px;top:141.2px"></i><span class="ln t" style="left:843.41px;top:131.55px;font-size:18.6px;line-height:22.32px;transform:scaleX(0.9857)">Leverage SHK &amp; Co.’s intellectual capital, rigorous</span><span class="ln t" style="left:843.19px;top:156.30px;font-size:18.6px;line-height:22.32px;transform:scaleX(1.0148)">process and expertise in alternatives investing</span></li>
<li><i class="dot" style="left:810.4px;top:190.8px"></i><span class="ln t" style="left:842.33px;top:181.05px;font-size:18.6px;line-height:22.32px;transform:scaleX(1.0369)">Increased portfolio diversification</span></li>
</ul>
<ul class="blk">
<li><i class="dot" style="left:893.0px;top:338.9px"></i><span class="ln t" style="left:925.80px;top:329.10px;font-size:18.6px;line-height:22.32px;transform:scaleX(0.9835)">Access to capital</span></li>
<li><i class="dot" style="left:893.0px;top:363.6px"></i><span class="ln t" style="left:926.21px;top:353.85px;font-size:18.6px;line-height:22.32px;transform:scaleX(0.9860)">Expand investor base for GPs with less</span><span class="ln t" style="left:925.80px;top:378.60px;font-size:18.6px;line-height:22.32px;transform:scaleX(0.9752)">Asia presence</span></li>
</ul>
<p class="caption"><span class="ln cap" style="left:369.25px;top:552.73px;font-size:21.2px;line-height:25.44px;transform:scaleX(0.9464)">SHKCP leverages on SHK &amp; Co. to connect LPs and GPs</span><span class="ln cap" style="left:446.90px;top:580.63px;font-size:21.2px;line-height:25.44px;transform:scaleX(1.0287)">in a manner to create mutual benefits</span></p>
</div></body></html>
